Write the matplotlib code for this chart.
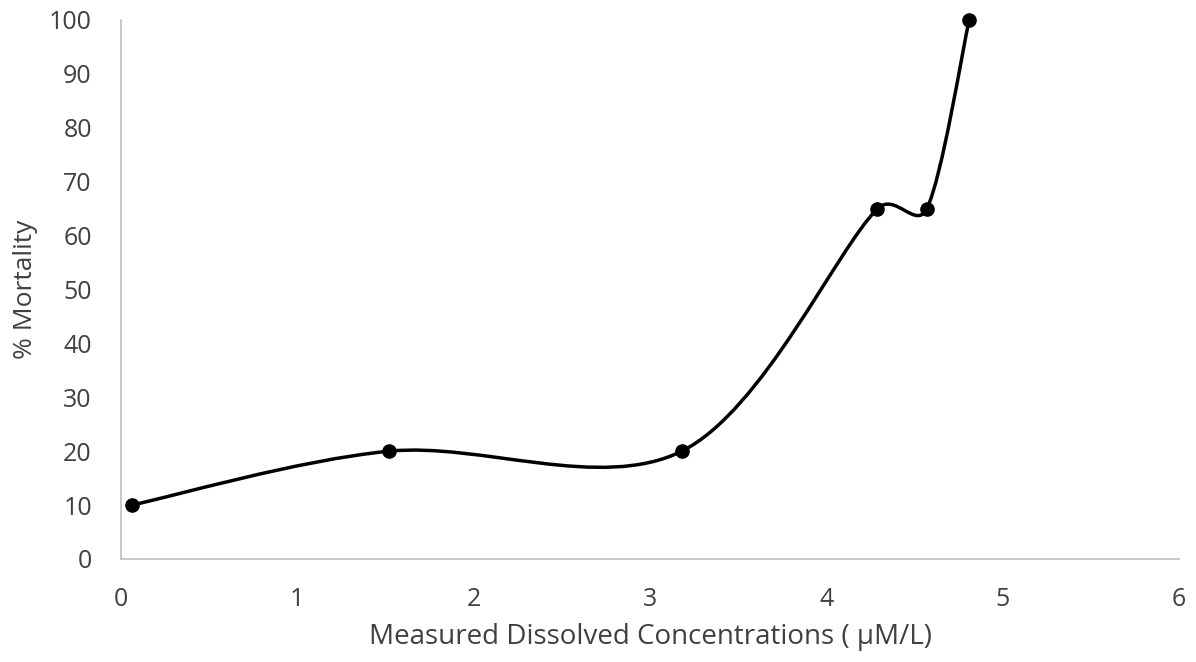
import matplotlib.pyplot as plt
import numpy as np
from matplotlib.path import Path
from matplotlib.patches import PathPatch

# measured concentration (uM/L) vs. mortality (%)
conc = [0.06, 1.52, 3.18, 4.29, 4.57, 4.81]
mortality = [10, 20, 20, 65, 65, 100]
xticks = [0, 1, 2, 3, 4, 5, 6]
yticks = [0, 10, 20, 30, 40, 50, 60, 70, 80, 90, 100]

plt.rcParams['font.family'] = ['Open Sans', 'DejaVu Sans']
grey = '#404040'

fig = plt.figure(figsize=(11.96, 6.62), dpi=100)
ax = fig.add_axes([0.1012, 0.1556, 0.8846, 0.8142])
ax.set_xlim(0, 6)
ax.set_ylim(0, 100)


def smooth_path(ax, xs, ys, limit=0.5):
    # spreadsheet-style smoothed line: cubic bezier through each point,
    # tangent handles capped relative to the segment length (in pixels)
    pts = ax.transData.transform(np.column_stack([xs, ys]))
    n = len(pts)
    verts = [pts[0]]
    codes = [Path.MOVETO]
    for i in range(n - 1):
        p0 = pts[max(i - 1, 0)]
        p1 = pts[i]
        p2 = pts[i + 1]
        p3 = pts[min(i + 2, n - 1)]
        seg = np.hypot(*(p2 - p1))
        d1 = (p2 - p0) / 6.0
        d2 = (p3 - p1) / 6.0
        for d in (d1, d2):
            ln = np.hypot(*d)
            if ln > limit * seg:
                d *= limit * seg / ln
        verts += [p1 + d1, p2 - d2, p2]
        codes += [Path.CURVE4] * 3
    inv = ax.transData.inverted()
    return Path(inv.transform(np.array(verts)), codes)


path = smooth_path(ax, conc, mortality)
ax.add_patch(PathPatch(path, facecolor='none', edgecolor='black', lw=2.5,
                       capstyle='round', joinstyle='round', zorder=2))
ax.plot(conc, mortality, 'o', color='black', markersize=9.5, zorder=3,
        clip_on=False)

ax.set_xticks(xticks)
ax.set_yticks(yticks)
ax.tick_params(length=0, labelsize=18, labelcolor=grey)
ax.tick_params(axis='x', pad=20)
ax.tick_params(axis='y', pad=21)
for s in ['top', 'right']:
    ax.spines[s].set_visible(False)
for s in ['left', 'bottom']:
    ax.spines[s].set_color('#bfbfbf')
    ax.spines[s].set_linewidth(1.2)

ax.set_xlabel('Measured Dissolved Concentrations ( \u00b5M/L)', fontsize=20,
              color=grey, labelpad=8)
ax.set_ylabel('% Mortality', fontsize=19, color=grey, labelpad=8)

plt.savefig('out.png', dpi=100)
